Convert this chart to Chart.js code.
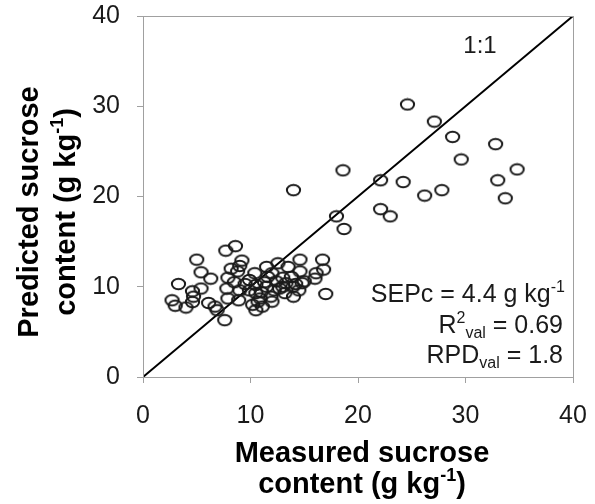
<!DOCTYPE html>
<html>
<head>
<meta charset="utf-8">
<script src="https://cdn.jsdelivr.net/npm/chart.js@4.4.1/dist/chart.umd.min.js"></script>
<style>
  html, body { margin: 0; padding: 0; background: #fff; }
  #wrap { width: 595px; height: 504px; }
</style>
</head>
<body>
<div id="wrap"><canvas id="scatter" width="595" height="504"></canvas></div>
<script>
// measured vs predicted sucrose (g kg-1)
var measured = [
    2.7, 3.0, 4.0, 3.3, 4.6, 4.7, 4.6, 5.4, 5.0, 5.4, 6.3, 6.1, 6.7, 6.9, 7.6, 7.7, 8.6, 7.9, 7.8, 7.9,
    9.0, 8.9, 8.8, 9.2, 9.0, 9.9, 10.4, 10.5, 10.7, 10.5, 11.1, 11.5, 11.6, 11.5, 11.9, 12.0, 12.55, 12.4, 12.7, 13.5,
    13.3, 13.8, 13.95, 14.6, 14.6, 14.5, 14.0, 15.0, 16.0, 16.1, 16.7, 16.8, 17.0, 9.9, 10.9, 13.0, 10.5, 11.0, 12.2, 14.2,
    10.2, 11.3, 12.0, 13.0, 9.5, 8.5, 8.2, 14.8, 13.2,
    14.0, 18.6, 18.0, 18.7, 22.1, 22.1, 23.0, 24.6, 24.2, 27.1, 26.2, 27.8, 28.8, 29.6, 32.8, 33.0, 33.7, 34.8
];
var predicted = [
    8.5, 7.9, 7.7, 10.3, 9.5, 8.9, 8.3, 9.8, 13.0, 11.6, 10.9, 8.2, 7.8, 7.4, 6.3, 14.0, 14.5, 11.0, 9.8, 8.7,
    9.6, 8.5, 11.7, 12.9, 12.3, 10.75, 11.5, 9.3, 8.35, 7.4, 7.8, 12.2, 11.1, 10.0, 8.9, 8.35, 12.6, 10.6, 9.8, 12.2,
    10.4, 11.1, 10.0, 13.0, 11.7, 9.6, 8.9, 10.6, 10.9, 11.5, 13.0, 11.9, 9.2, 9.6, 8.7, 10.0, 10.2, 9.4, 9.6, 10.3,
    8.0, 10.5, 11.5, 11.0, 10.3, 10.5, 12.0, 10.4, 9.3,
    20.7, 22.9, 17.8, 16.4, 21.8, 18.6, 17.8, 30.2, 21.6, 28.3, 20.1, 20.7, 26.6, 24.1, 25.8, 21.8, 19.8, 23.0
];
var oneToOne = [0, 40];
var tickValues = [0, 10, 20, 30, 40];

var FONT = "'Liberation Sans', Arial, sans-serif";

// open ellipse marker, like the spreadsheet export
var marker = document.createElement('canvas');
marker.width = 17;
marker.height = 14;
var mctx = marker.getContext('2d');
mctx.strokeStyle = '#1a1a1a';
mctx.lineWidth = 2;
mctx.beginPath();
mctx.ellipse(8.5, 7, 6.6, 5.2, 0, 0, Math.PI * 2);
mctx.stroke();

var points = measured.map(function(m, i) {
    return { x: m, y: predicted[i] };
});

// text with super/subscript pieces
function richWidth(ctx, parts, size) {
    var w = 0;
    parts.forEach(function(p) {
        ctx.font = (p.bold ? 'bold ' : '') + (p.sup || p.sub ? Math.round(size * 0.62) : size) + 'px ' + FONT;
        w += ctx.measureText(p.t).width;
    });
    return w;
}

function drawRich(ctx, parts, x, y, size, align) {
    var w = richWidth(ctx, parts, size);
    var cx = align === 'right' ? x - w : (align === 'center' ? x - w / 2 : x);
    ctx.textAlign = 'left';
    ctx.textBaseline = 'alphabetic';
    parts.forEach(function(p) {
        var s = p.sup || p.sub ? Math.round(size * 0.62) : size;
        ctx.font = (p.bold ? 'bold ' : '') + s + 'px ' + FONT;
        var dy = p.sup ? -size * 0.4 : (p.sub ? size * 0.18 : 0);
        ctx.fillText(p.t, cx, y + dy);
        cx += ctx.measureText(p.t).width;
    });
}

var annotations = {
    id: 'annotations',
    afterDraw: function(chart) {
        var ctx = chart.ctx;
        var a = chart.chartArea;
        ctx.save();

        // frame
        ctx.strokeStyle = '#a0a0a0';
        ctx.lineWidth = 1;
        ctx.strokeRect(a.left + 0.5, a.top + 0.5, a.right - a.left, a.bottom - a.top);

        ctx.fillStyle = '#1a1a1a';
        drawRich(ctx, [{ t: '1:1' }], 480, 53, 24, 'center');

        drawRich(ctx, [{ t: 'SEPc = 4.4 g kg' }, { t: '-1', sup: true }], 565, 302, 25, 'right');
        drawRich(ctx, [{ t: 'R' }, { t: '2', sup: true }, { t: 'val', sub: true }, { t: ' = 0.69' }], 563, 333, 25, 'right');
        drawRich(ctx, [{ t: 'RPD' }, { t: 'val', sub: true }, { t: ' = 1.8' }], 563, 363, 25, 'right');

        // axis titles
        ctx.fillStyle = '#000';
        drawRich(ctx, [{ t: 'Measured sucrose', bold: true }], 362, 462, 29, 'center');
        drawRich(ctx, [{ t: 'content (g kg', bold: true }, { t: '-1', sup: true, bold: true }, { t: ')', bold: true }], 362, 493, 29, 'center');

        ctx.translate(0, 212);
        ctx.rotate(-Math.PI / 2);
        drawRich(ctx, [{ t: 'Predicted sucrose', bold: true }], 0, 38, 29, 'center');
        drawRich(ctx, [{ t: 'content (g kg', bold: true }, { t: '-1', sup: true, bold: true }, { t: ')', bold: true }], 0, 75, 29, 'center');

        ctx.restore();
    }
};

var ctx = document.getElementById('scatter').getContext('2d');
window.myScatter = new Chart(ctx, {
    type: 'scatter',
    data: {
        datasets: [{
            label: 'Validation',
            data: points,
            pointStyle: marker,
            pointRadius: 7,
            pointHoverRadius: 7
        }, {
            type: 'line',
            label: '1:1',
            data: oneToOne.map(function(v) { return { x: v, y: v }; }),
            borderColor: '#000',
            borderWidth: 2,
            pointRadius: 0,
            fill: false
        }]
    },
    options: {
        responsive: false,
        animation: false,
        layout: {
            padding: { top: 16, right: 22, left: 0, bottom: 0 }
        },
        plugins: {
            legend: { display: false },
            tooltip: { enabled: false }
        },
        scales: {
            x: {
                type: 'linear',
                min: 0,
                max: 40,
                afterFit: function(s) {
                    s.height = 127;
                    s.paddingLeft = 0;
                    s.paddingRight = 0;
                },
                afterBuildTicks: function(s) { s.ticks = tickValues.map(function(v) { return { value: v }; }); },
                ticks: { font: { family: FONT, size: 25 }, color: '#1a1a1a', padding: 18, maxRotation: 0 },
                grid: { drawOnChartArea: false, drawTicks: true, tickLength: 6, color: '#a0a0a0' },
                border: { color: '#a0a0a0' }
            },
            y: {
                type: 'linear',
                min: 0,
                max: 40,
                afterFit: function(s) {
                    s.width = 143;
                    s.paddingTop = 0;
                    s.paddingBottom = 0;
                },
                afterBuildTicks: function(s) { s.ticks = tickValues.map(function(v) { return { value: v }; }); },
                ticks: { font: { family: FONT, size: 25 }, color: '#1a1a1a', padding: 17 },
                grid: { drawOnChartArea: false, drawTicks: true, tickLength: 6, color: '#a0a0a0' },
                border: { color: '#a0a0a0' }
            }
        }
    },
    plugins: [annotations]
});
</script>
</body>
</html>
